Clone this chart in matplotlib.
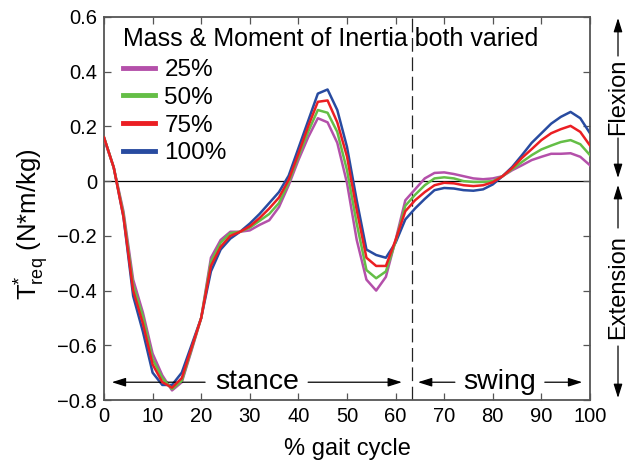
import matplotlib
matplotlib.use("Agg")
import matplotlib.pyplot as plt
from matplotlib.ticker import FuncFormatter, MultipleLocator

plt.rcParams['font.family'] = ['Liberation Sans', 'DejaVu Sans']
plt.rcParams['mathtext.fontset'] = 'custom'
plt.rcParams['mathtext.rm'] = 'Liberation Sans'

# ---------------- data ----------------
gait = list(range(0, 101, 2))

t_25 = [0.155, 0.05, -0.11, -0.36, -0.48, -0.63, -0.71, -0.765, -0.735, -0.62,
        -0.50, -0.28, -0.215, -0.185, -0.185, -0.18, -0.16, -0.143, -0.095, -0.015,
        0.077, 0.16, 0.23, 0.215, 0.14, -0.007, -0.215, -0.36, -0.40, -0.35,
        -0.215, -0.07, -0.03, 0.01, 0.03, 0.032, 0.026, 0.018, 0.01, 0.007,
        0.01, 0.018, 0.04, 0.058, 0.077, 0.089, 0.10, 0.10, 0.102, 0.089, 0.058]
t_50 = [0.16, 0.05, -0.12, -0.38, -0.495, -0.65, -0.72, -0.76, -0.73, -0.615,
        -0.50, -0.295, -0.225, -0.19, -0.185, -0.17, -0.145, -0.12, -0.08, -0.005,
        0.09, 0.18, 0.26, 0.25, 0.18, 0.04, -0.155, -0.325, -0.355, -0.33,
        -0.22, -0.09, -0.05, -0.015, 0.01, 0.014, 0.01, 0.0, -0.003, -0.003,
        0.0, 0.018, 0.044, 0.07, 0.095, 0.116, 0.13, 0.143, 0.15, 0.135, 0.095]
t_75 = [0.16, 0.05, -0.13, -0.40, -0.52, -0.67, -0.735, -0.755, -0.72, -0.61,
        -0.50, -0.31, -0.24, -0.20, -0.185, -0.165, -0.135, -0.10, -0.06, 0.005,
        0.10, 0.20, 0.29, 0.295, 0.215, 0.09, -0.105, -0.28, -0.31, -0.31,
        -0.215, -0.11, -0.07, -0.04, -0.015, -0.006, -0.008, -0.015, -0.018, -0.015,
        -0.004, 0.018, 0.048, 0.085, 0.117, 0.15, 0.175, 0.19, 0.202, 0.18, 0.13]
t_100 = [0.16, 0.05, -0.13, -0.42, -0.55, -0.70, -0.745, -0.745, -0.70, -0.60,
         -0.50, -0.33, -0.25, -0.21, -0.185, -0.155, -0.12, -0.08, -0.04, 0.02,
         0.12, 0.22, 0.32, 0.335, 0.26, 0.125, -0.07, -0.25, -0.27, -0.28,
         -0.225, -0.14, -0.10, -0.065, -0.033, -0.025, -0.027, -0.033, -0.035, -0.03,
         -0.012, 0.018, 0.052, 0.095, 0.14, 0.175, 0.21, 0.235, 0.253, 0.23, 0.175]

series_labels = ['25%', '50%', '75%', '100%']
legend_title = 'Mass & Moment of Inertia both varied'
toe_off = 63.3

# ---------------- figure ----------------
fig = plt.figure(figsize=(6.28, 4.62), dpi=100)
ax = fig.add_axes([104 / 628, 1 - 400 / 462, 486 / 628, 383 / 462])

colors = ['#B450AA', '#64BE46', '#EB1E23', '#284BA0']
zords = [3, 4, 5, 2]
for vals, lab, c, z in zip([t_25, t_50, t_75, t_100], series_labels, colors, zords):
    ax.plot(gait, vals, color=c, lw=1.8, label=lab, zorder=z)

ax.axhline(0, color='black', lw=0.9, zorder=1)
ax.axvline(toe_off, color='#222222', lw=0.9, linestyle=(0, (11, 4.5)), zorder=1)

ax.set_xlim(0, 100)
ax.set_ylim(-0.8, 0.6)
ax.xaxis.set_major_locator(MultipleLocator(10))
ax.yaxis.set_major_locator(MultipleLocator(0.2))


def yfmt(v, pos):
    if abs(v) < 1e-9:
        return '0'
    return f'{v:.1f}'.replace('-', '\u2212')


ax.yaxis.set_major_formatter(FuncFormatter(yfmt))
ax.tick_params(direction='in', length=5, width=0.9, top=True, right=True,
               labelsize=14.5, color='#555555', pad=5)
for sp in ax.spines.values():
    sp.set_color('#555555')
    sp.set_linewidth(1.3)

ax.set_xlabel('% gait cycle', fontsize=17, labelpad=8.5)
ax.set_ylabel(r'$\mathregular{T^{*}_{req}\;(N{*}m/kg)}$', fontsize=18.5)
ax.yaxis.set_label_coords(-0.110, 0.46)

leg = ax.legend(title=legend_title, loc='upper left',
                bbox_to_anchor=((123 - 104) / 486, (400 - 27) / 383),
                frameon=False, fontsize=17.5, title_fontsize=18,
                alignment='left', borderpad=0, borderaxespad=0,
                handlelength=1.3, handletextpad=0.4, labelspacing=0.23)
for h in leg.legend_handles:
    h.set_linewidth(3.5)
leg._legend_box.sep = 6

# stance / swing annotations
yarr = -0.735
arrow_kw = dict(arrowstyle='-|>,head_length=0.7,head_width=0.22', color='black',
                lw=0.9, shrinkA=0, shrinkB=0, mutation_scale=12)
ax.text(31.6, yarr, 'stance', fontsize=20.5, ha='center', va='center')
ax.annotate('', xy=(1.6, yarr), xytext=(20.8, yarr), arrowprops=arrow_kw)
ax.annotate('', xy=(61.3, yarr), xytext=(42.0, yarr), arrowprops=arrow_kw)
ax.text(81.5, yarr, 'swing', fontsize=20.5, ha='center', va='center')
ax.annotate('', xy=(64.6, yarr), xytext=(72.2, yarr), arrowprops=arrow_kw)
ax.annotate('', xy=(98.4, yarr), xytext=(90.7, yarr), arrowprops=arrow_kw)

# Flexion / Extension labels on the right
xr = (618 - 104) / 486


def fy(py):
    return (400 - py) / 383


ax.text(xr, fy(97), 'Flexion', rotation=90, fontsize=17, ha='center', va='center',
        transform=ax.transAxes, clip_on=False)
ax.annotate('', xy=(xr, fy(18)), xytext=(xr, fy(56)), xycoords='axes fraction',
            arrowprops=arrow_kw, annotation_clip=False)
ax.annotate('', xy=(xr, fy(178)), xytext=(xr, fy(138)), xycoords='axes fraction',
            arrowprops=arrow_kw, annotation_clip=False)
ax.text(xr, fy(287), 'Extension', rotation=90, fontsize=17, ha='center', va='center',
        transform=ax.transAxes, clip_on=False)
ax.annotate('', xy=(xr, fy(185)), xytext=(xr, fy(228)), xycoords='axes fraction',
            arrowprops=arrow_kw, annotation_clip=False)
ax.annotate('', xy=(xr, fy(398)), xytext=(xr, fy(346)), xycoords='axes fraction',
            arrowprops=arrow_kw, annotation_clip=False)

fig.savefig('out.png', dpi=100)
